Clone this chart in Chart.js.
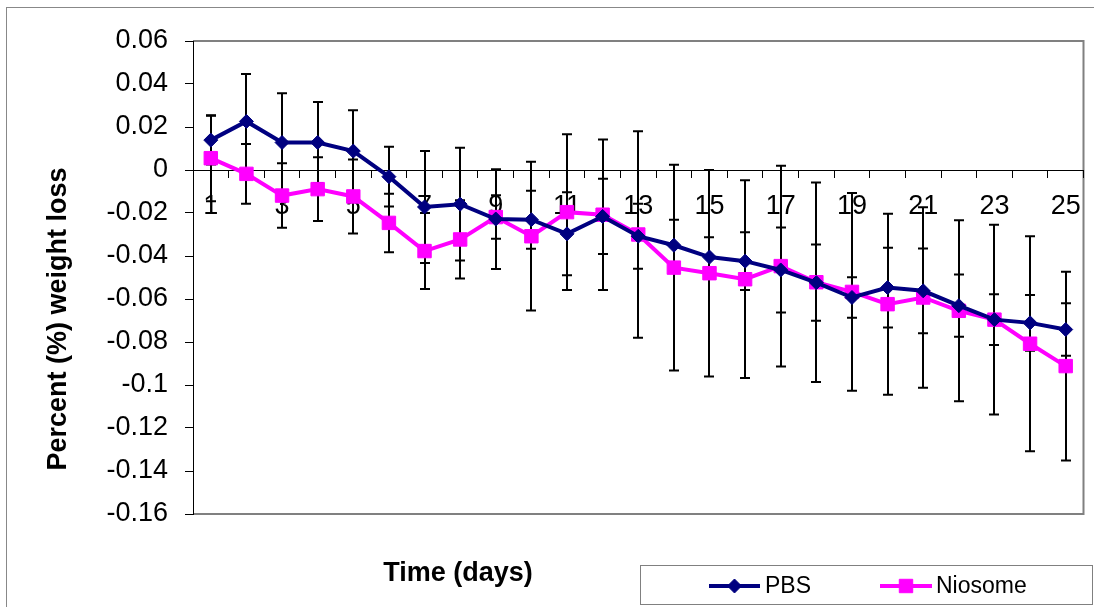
<!DOCTYPE html>
<html>
<head>
<meta charset="utf-8">
<script src="https://cdn.jsdelivr.net/npm/chart.js@4.4.1/dist/chart.umd.min.js"></script>
<style>
  html, body { margin: 0; padding: 0; background: #ffffff; }
  #wrap { position: relative; width: 1094px; height: 607px; }
</style>
</head>
<body>
<div id="wrap"><canvas id="c" width="1094" height="607"></canvas></div>
<script>
// ---- Data ----
const days = ['1','2','3','4','5','6','7','8','9','10','11','12','13','14','15','16','17','18','19','20','21','22','23','24','25'];
const xTickLabels = ['1','','3','','5','','7','','9','','11','','13','','15','','17','','19','','21','','23','','25'];

const pbs = [0.0139, 0.0226, 0.0128, 0.0128, 0.0088, -0.0031, -0.0172, -0.0159, -0.0228, -0.0231,
             -0.0297, -0.0216, -0.0308, -0.0350, -0.0405, -0.0424, -0.0465, -0.0524, -0.0593, -0.0547,
             -0.0562, -0.0631, -0.0696, -0.0711, -0.0742];
const pbsSD = [0.0113, 0.0221, 0.0229, 0.0188, 0.0190, 0.0139, 0.0260, 0.0262, 0.0232, 0.0135,
               0.0193, 0.0175, 0.0151, 0.0119, 0.0092, 0.0134, 0.0198, 0.0177, 0.0094, 0.0185,
               0.0197, 0.0145, 0.0118, 0.0130, 0.0122];

const niosome = [0.0055, -0.0018, -0.0119, -0.0089, -0.0123, -0.0246, -0.0377, -0.0323, -0.0219, -0.0308,
                 -0.0196, -0.0208, -0.0300, -0.0454, -0.0480, -0.0508, -0.0447, -0.0522, -0.0567, -0.0624,
                 -0.0593, -0.0655, -0.0696, -0.0808, -0.0912];
const niosomeSD = [0.0200, 0.0139, 0.0150, 0.0148, 0.0172, 0.0136, 0.0177, 0.0182, 0.0101, 0.0346,
                   0.0362, 0.0350, 0.0480, 0.0478, 0.0480, 0.0460, 0.0467, 0.0464, 0.0460, 0.0421,
                   0.0420, 0.0421, 0.0441, 0.0500, 0.0439];

const yTickValues = [-0.16, -0.14, -0.12, -0.10, -0.08, -0.06, -0.04, -0.02, 0, 0.02, 0.04, 0.06];
const yTickLabels = ['-0.16', '-0.14', '-0.12', '-0.1', '-0.08', '-0.06', '-0.04', '-0.02', '0', '0.02', '0.04', '0.06'];

const seriesNames = ['PBS', 'Niosome'];
const xTitle = 'Time (days)';
const yTitle = 'Percent (%) weight loss';

// ---- Styles ----
const FONT = "'Liberation Sans', Arial, sans-serif";
const PBS_COLOR = '#000080';
const NIO_COLOR = '#FF00FF';

const errorBars = {
  id: 'errorBars',
  beforeDatasetsDraw(chart) {
    const ctx = chart.ctx;
    const ys = chart.scales.y;
    const sds = [pbsSD, niosomeSD];
    ctx.save();
    ctx.strokeStyle = '#000000';
    ctx.lineWidth = 2;
    chart.data.datasets.forEach((ds, di) => {
      const meta = chart.getDatasetMeta(di);
      meta.data.forEach((pt, i) => {
        const v = ds.data[i];
        const sd = sds[di][i];
        const x = Math.round(pt.x);
        const yT = ys.getPixelForValue(v + sd);
        const yB = ys.getPixelForValue(v - sd);
        ctx.beginPath();
        ctx.moveTo(x, yT); ctx.lineTo(x, yB);
        ctx.moveTo(x - 5, yT); ctx.lineTo(x + 5, yT);
        ctx.moveTo(x - 5, yB); ctx.lineTo(x + 5, yB);
        ctx.stroke();
      });
    });
    ctx.restore();
  }
};

const frame = {
  id: 'frame',
  beforeDraw(chart) {
    const ctx = chart.ctx;
    const a = chart.chartArea;
    ctx.save();
    ctx.fillStyle = '#ffffff';
    ctx.fillRect(0, 0, chart.width, chart.height);
    // outer frame
    ctx.strokeStyle = '#888888';
    ctx.lineWidth = 1;
    ctx.strokeRect(6.5, 7.5, 1200, 700);
    // plot area border (top, right, bottom)
    ctx.strokeStyle = '#808080';
    ctx.lineWidth = 2;
    ctx.beginPath();
    ctx.moveTo(a.left, a.top);
    ctx.lineTo(a.right, a.top);
    ctx.lineTo(a.right, a.bottom);
    ctx.lineTo(a.left, a.bottom);
    ctx.stroke();
    ctx.restore();
  },
  afterDraw(chart) {
    const ctx = chart.ctx;
    ctx.save();
    // axis titles
    ctx.fillStyle = '#000000';
    ctx.font = "bold 27px " + FONT;
    ctx.textAlign = 'center';
    ctx.textBaseline = 'alphabetic';
    ctx.fillText(xTitle, 458, 581);
    ctx.save();
    ctx.translate(66, 319);
    ctx.rotate(-Math.PI / 2);
    ctx.font = "bold 27px " + FONT;
    ctx.fillText(yTitle, 0, 0);
    ctx.restore();

    // legend box
    ctx.strokeStyle = '#808080';
    ctx.lineWidth = 1;
    ctx.strokeRect(640.5, 565.5, 452, 39);
    const items = [
      { x0: 709, x1: 760, tx: 765, ds: chart.data.datasets[0] },
      { x0: 880, x1: 932, tx: 936, ds: chart.data.datasets[1] }
    ];
    const ly = 586;
    items.forEach(it => {
      ctx.strokeStyle = it.ds.borderColor;
      ctx.lineWidth = it.ds.borderWidth;
      ctx.beginPath();
      ctx.moveTo(it.x0, ly); ctx.lineTo(it.x1, ly);
      ctx.stroke();
      ctx.fillStyle = it.ds.pointBackgroundColor;
      ctx.strokeStyle = it.ds.pointBorderColor;
      ctx.lineWidth = 1;
      Chart.helpers.drawPoint(ctx, {
        pointStyle: it.ds.pointStyle,
        radius: it.ds.pointRadius,
        borderWidth: 1,
        rotation: 0
      }, (it.x0 + it.x1) / 2, ly);
      ctx.fillStyle = '#000000';
      ctx.font = "23px " + FONT;
      ctx.textAlign = 'left';
      ctx.textBaseline = 'middle';
      ctx.fillText(it.ds.label, it.tx, ly + 1);
    });
    ctx.restore();
  }
};

const chart = new Chart(document.getElementById('c'), {
  type: 'line',
  data: {
    labels: days,
    datasets: [
      {
        label: seriesNames[0],
        data: pbs,
        borderColor: PBS_COLOR,
        backgroundColor: PBS_COLOR,
        borderWidth: 4,
        pointStyle: 'rectRot',
        pointRadius: 7,
        pointBackgroundColor: PBS_COLOR,
        pointBorderColor: PBS_COLOR,
        pointBorderWidth: 1,
        tension: 0
      },
      {
        label: seriesNames[1],
        data: niosome,
        borderColor: NIO_COLOR,
        backgroundColor: NIO_COLOR,
        borderWidth: 4,
        pointStyle: 'rect',
        pointRadius: 9.5,
        pointBackgroundColor: NIO_COLOR,
        pointBorderColor: NIO_COLOR,
        pointBorderWidth: 1,
        tension: 0
      }
    ]
  },
  options: {
    responsive: false,
    animation: false,
    devicePixelRatio: 1,
    layout: { padding: { left: 0, top: 41, right: 10, bottom: 93 } },
    plugins: { legend: { display: false }, tooltip: { enabled: false } },
    scales: {
      x: {
        type: 'category',
        position: { y: 0 },
        offset: true,
        afterFit(scale) { scale.height = 0; },
        grid: { display: true, drawOnChartArea: false, drawTicks: true, tickLength: 7, color: '#000000', offset: true },
        border: { display: true, color: '#000000', width: 1 },
        ticks: {
          autoSkip: false, maxRotation: 0, minRotation: 0, padding: 13,
          color: '#000000', font: { family: FONT, size: 27 },
          callback: (v, i) => xTickLabels[i]
        }
      },
      y: {
        type: 'linear',
        position: 'left',
        min: -0.16,
        max: 0.06,
        afterFit(scale) { scale.width = 193; },
        afterBuildTicks(scale) { scale.ticks = yTickValues.map(v => ({ value: v })); },
        grid: { display: true, drawOnChartArea: false, drawTicks: true, tickLength: 8, color: '#000000' },
        border: { display: true, color: '#000000', width: 1 },
        ticks: {
          padding: 17, color: '#000000', font: { family: FONT, size: 27 },
          callback: (v, i) => yTickLabels[i]
        }
      }
    }
  },
  plugins: [frame, errorBars]
});
</script>
</body>
</html>
